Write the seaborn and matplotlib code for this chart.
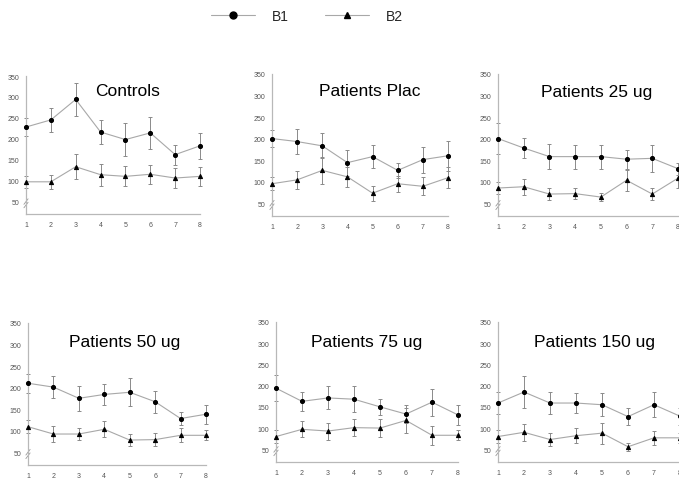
import numpy as np
import pandas as pd
import seaborn as sns
import matplotlib.pyplot as plt
from matplotlib.ticker import MultipleLocator
from matplotlib.lines import Line2D

sessions = [1, 2, 3, 4, 5, 6, 7, 8]
panel_titles = ["Controls", "Patients Plac", "Patients 25 ug",
                "Patients 50 ug", "Patients 75 ug", "Patients 150 ug"]

# B1 mean / error per panel
b1_mean = [
    [228, 245, 294, 216, 198, 214, 162, 183],
    [200, 193, 183, 144, 158, 126, 151, 160],
    [200, 178, 158, 158, 158, 152, 154, 130],
    [210, 201, 175, 184, 189, 167, 128, 138],
    [194, 163, 171, 168, 150, 133, 161, 131],
    [159, 185, 159, 159, 155, 127, 155, 128],
]
b1_err = [
    [22, 28, 39, 29, 39, 39, 24, 31],
    [20, 29, 29, 30, 27, 18, 30, 35],
    [37, 24, 29, 28, 28, 22, 31, 14],
    [22, 26, 29, 25, 33, 25, 16, 22],
    [31, 23, 27, 31, 19, 21, 32, 24],
    [26, 37, 27, 23, 27, 20, 29, 20],
]
# B2 mean / error per panel
b2_mean = [
    [97, 97, 133, 114, 110, 115, 106, 110],
    [95, 104, 126, 111, 73, 95, 89, 109],
    [85, 88, 71, 72, 64, 103, 71, 108],
    [109, 92, 92, 103, 78, 79, 89, 89],
    [80, 97, 93, 101, 100, 118, 83, 83],
    [80, 90, 73, 82, 88, 56, 77, 77],
]
b2_err = [
    [15, 17, 30, 26, 24, 23, 23, 23],
    [15, 21, 31, 24, 17, 19, 21, 25],
    [15, 19, 14, 12, 10, 25, 13, 22],
    [15, 18, 15, 19, 14, 16, 16, 12],
    [15, 19, 20, 20, 22, 30, 23, 12],
    [15, 20, 15, 18, 25, 9, 17, 12],
]

# axes boxes in pixels: left, top, right, bottom
W, H = 679, 481
boxes = [(26, 77, 200, 215), (272, 75, 448, 217), (498, 75, 678, 217),
         (28, 324, 206, 466), (276, 323, 458, 463), (498, 323, 680, 463)]
title_xy = [(128, 92), (370, 92), (597, 92), (125, 343), (367, 343), (595, 343)]

sns.set_style("white")
plt.rcParams['font.family'] = ['Liberation Sans', 'DejaVu Sans']

line_c = "#a8a8a8"
err_c = "#8a8a8a"
spine_c = "#b8b8b8"

fig = plt.figure(figsize=(W / 100, H / 100), dpi=100)

for i in range(6):
    l, t, r, b = boxes[i]
    ax = fig.add_axes([l / W, 1 - b / H, (r - l) / W, (b - t) / H])
    df = pd.DataFrame({"session": sessions * 2,
                       "value": b1_mean[i] + b2_mean[i],
                       "err": b1_err[i] + b2_err[i],
                       "series": ["B1"] * 8 + ["B2"] * 8})
    for name, mk, ms in [("B1", "o", 2.9), ("B2", "^", 3.0)]:
        d = df[df.series == name]
        ax.errorbar(d.session, d.value, yerr=d.err, fmt="none", ecolor=err_c,
                    elinewidth=0.7, capsize=1.6, capthick=0.7, clip_on=False, zorder=2)
        sns.lineplot(data=d, x="session", y="value", ax=ax, color=line_c, lw=0.8,
                     marker=mk, markersize=ms, markerfacecolor="black",
                     markeredgecolor="black", clip_on=False, zorder=3, legend=False)
    ax.set_xlim(1, 8)
    ax.set_ylim(20, 350)
    ax.set_xticks(sessions)
    ax.yaxis.set_major_locator(MultipleLocator(50))
    ax.yaxis.set_minor_locator(MultipleLocator(25))
    ax.set_yticks(range(50, 351, 50))
    ax.set_xlabel("")
    ax.set_ylabel("")
    for s in ["top", "right"]:
        ax.spines[s].set_visible(False)
    for s in ["left", "bottom"]:
        ax.spines[s].set_color(spine_c)
        ax.spines[s].set_linewidth(0.9)
    ax.tick_params(axis="both", which="both", direction="out", colors=spine_c,
                   labelcolor="#555555", labelsize=5, width=0.7)
    ax.tick_params(axis="both", which="major", length=3, pad=2)
    ax.tick_params(axis="y", which="minor", length=2)
    # axis break marks
    for dy in (0.0, 0.025):
        ax.plot([-0.012, 0.012], [0.045 + dy, 0.085 + dy], transform=ax.transAxes,
                color="#999999", lw=0.6, clip_on=False)
    tx, ty = title_xy[i]
    fig.text(tx / W, 1 - ty / H, panel_titles[i], ha="center", va="center",
             fontsize=12.5, color="black")

handles = [Line2D([], [], color=line_c, lw=0.8, marker="o", markersize=5,
                  markerfacecolor="black", markeredgecolor="black"),
           Line2D([], [], color=line_c, lw=0.8, marker="^", markersize=5,
                  markerfacecolor="black", markeredgecolor="black")]
fig.legend(handles, ["B1", "B2"], loc="center", bbox_to_anchor=(0.452, 1 - 17 / H),
           ncol=2, frameon=False, fontsize=10, handlelength=3.2, columnspacing=2.6,
           handletextpad=1.2)

fig.savefig("out.png", dpi=100)
